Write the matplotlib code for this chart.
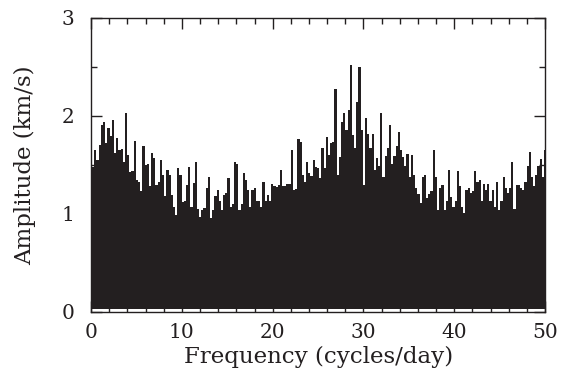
import numpy as np
import matplotlib
matplotlib.use("Agg")
import matplotlib.pyplot as plt
from matplotlib.ticker import MultipleLocator

# Peak amplitudes (km/s) read left to right across 0-50 cycles/day
peaks = [
    1.50, 1.48, 1.65, 1.55, 1.70, 1.91, 1.94, 1.72, 1.88, 1.79, 1.96, 1.62, 1.77,
    1.65, 1.66, 1.53, 2.03, 1.60, 1.43, 1.44, 1.74, 1.35, 1.33, 1.23, 1.69,
    1.50, 1.51, 1.28, 1.62, 1.57, 1.30, 1.33, 1.55, 1.40, 1.18, 1.45, 1.40, 1.19,
    1.07, 0.99, 1.47, 1.40, 1.12, 1.13, 1.30, 1.48, 1.07, 1.32, 1.53, 1.05, 0.97,
    1.04, 1.06, 1.26, 1.38, 0.96, 1.04, 1.18, 1.24, 1.13, 1.04, 1.19, 1.21, 1.37,
    1.07, 1.10, 1.53, 1.51, 1.04, 1.10, 1.42, 1.35, 1.24, 1.07, 1.24, 1.26, 1.13,
    1.13, 1.07, 1.33, 1.13, 1.19, 1.13, 1.31, 1.28, 1.27, 1.30, 1.45, 1.28, 1.28,
    1.31, 1.31, 1.65, 1.24, 1.25, 1.76, 1.73, 1.40, 1.33, 1.53, 1.42, 1.39, 1.55,
    1.48, 1.47, 1.37, 1.67, 1.47, 1.78, 1.60, 1.72, 1.73, 2.27, 1.40, 1.58,
    1.94, 2.03, 1.86, 2.06, 2.52, 1.81, 1.67, 2.14, 2.50, 1.86, 1.30, 1.98, 1.82,
    1.67, 1.82, 1.45, 1.57, 1.49, 2.03, 1.38, 1.59, 1.67, 1.91, 1.51, 1.59, 1.69,
    1.84, 1.65, 1.58, 1.49, 1.61, 1.38, 1.60, 1.40, 1.26, 1.20, 1.11, 1.38, 1.40,
    1.16, 1.20,
    1.23, 1.65, 1.38, 1.04, 1.26, 1.30, 1.04, 1.13, 1.45, 1.17, 1.07, 1.13, 1.44,
    1.28, 1.07, 1.01, 1.24, 1.26, 1.21, 1.23, 1.44, 1.33, 1.35, 1.13, 1.31, 1.24,
    1.31, 1.13, 1.24, 1.07, 1.33, 1.04, 1.13, 1.38, 1.26, 1.21, 1.26, 1.53, 1.05,
    1.30, 1.30, 1.26, 1.24, 1.33, 1.49, 1.63, 1.38, 1.28, 1.40, 1.49, 1.56, 1.38,
    1.65,
]
freq = np.linspace(0, 50, len(peaks))
base_amp = 0.03

x_ticks = [0, 10, 20, 30, 40, 50]
y_ticks = [0, 1, 2, 3]

ink = "#231f20"
plt.rcParams["font.family"] = ["DejaVu Serif"]

fig = plt.figure(figsize=(5.69, 3.80), dpi=100)
ax = fig.add_axes([0.160, 0.179, 0.798, 0.774])

ax.fill_between(freq, base_amp, peaks, step="mid", color=ink, linewidth=0)

ax.set_xlim(0, 50)
ax.set_ylim(0, 3)
ax.set_xticks(x_ticks)
ax.set_yticks(y_ticks)
ax.xaxis.set_minor_locator(MultipleLocator(2))
ax.yaxis.set_minor_locator(MultipleLocator(0.5))
ax.tick_params(which="both", direction="in", top=True, right=True,
               color=ink, width=1.0, labelsize=14.5, labelcolor=ink)
ax.tick_params(which="major", length=8)
ax.tick_params(which="minor", length=4)
ax.tick_params(axis="x", pad=8)
ax.tick_params(axis="y", pad=12)
for s in ax.spines.values():
    s.set_color(ink)
    s.set_linewidth(1.0)

ax.set_xlabel("Frequency (cycles/day)", fontsize=16.5, color=ink, labelpad=3)
ax.set_ylabel("Amplitude (km/s)", fontsize=16.5, color=ink, labelpad=18)

fig.savefig("out.png", dpi=100)
